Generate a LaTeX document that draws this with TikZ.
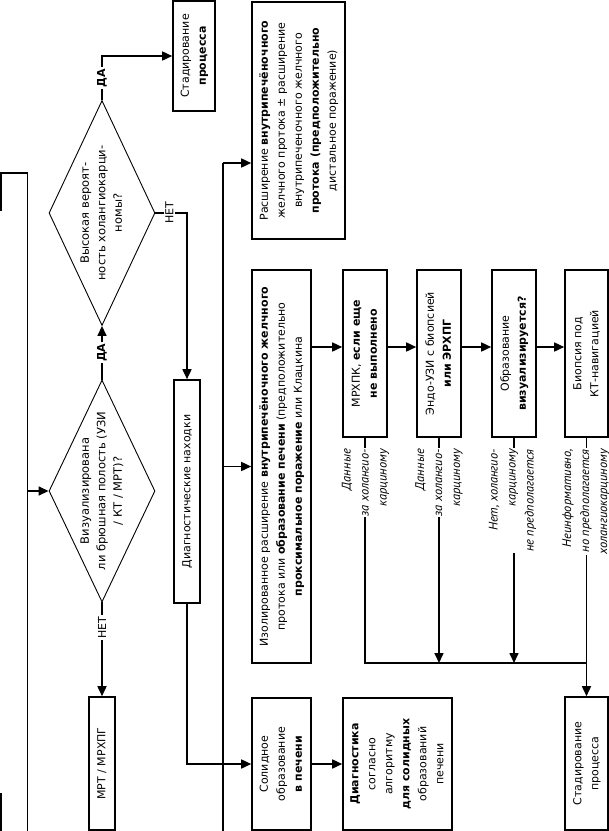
\documentclass[tikz,border=0pt]{standalone}
\usepackage{fontspec}
\usepackage{graphicx}
\setmainfont{DejaVu Sans}
\newfontfamily\ptsans{PT Sans}
\usetikzlibrary{arrows.meta,shapes.geometric,calc}
\newcommand{\rtxt}[1]{\rotatebox{90}{\begin{tabular}{@{}c@{}}#1\end{tabular}}}
\newcommand{\rtxtr}[1]{\rotatebox{90}{\begin{tabular}{@{}r@{}}#1\end{tabular}}}
\tikzset{
  box/.style={draw, line width=1.6pt, inner sep=0pt, font=\fontsize{11}{17}\selectfont},
  dia/.style={draw, diamond, line width=0.9pt, inner sep=0pt},
  dtext/.style={inner sep=0pt, font=\fontsize{11.5}{16.5}\selectfont},
  arr/.style={line width=1.6pt, -{Triangle[length=10pt,width=9pt]}},
  ln/.style={line width=1.6pt},
  lbl/.style={fill=white, inner sep=1pt, font=\ptsans\itshape\fontsize{12.5}{18}\selectfont},
  yn/.style={fill=white, inner sep=1.5pt, font=\fontsize{11}{13}\selectfont},
}
\begin{document}
\begin{tikzpicture}[x=1pt,y=-1pt]
\useasboundingbox (0,0) rectangle (609,831);
% left clipped box (partly visible)
\node[inner sep=0pt, minimum width=26pt, minimum height=680pt, anchor=north west] (lb) at (1,173) {};
\draw[ln] ($(lb.north west)+(0,38)$) -- (lb.north west) -- (lb.north east) -- (lb.south east);
\draw[ln] (1,793) -- (lb.south west);
% diamonds
\node[dia, minimum width=106pt, minimum height=222pt] (d1) at (102,491) {};
\node[dtext] (d1t) at (102,491) {\rtxt{Визуализирована\\ли брюшная полость (УЗИ\\/ КТ / МРТ)?}};
\node[dia, minimum width=106pt, minimum height=225pt] (d2) at (102,213) {};
\node[dtext] (d2t) at (102,213) {\rtxt{Высокая вероят-\\ность холангиокарци-\\номы?}};
% boxes
\node[box, minimum width=42pt, minimum height=110pt] (sb) at (194,56) {\rtxt{Стадирование\\\textbf{процесса}}};
\node[box, minimum width=26pt, minimum height=223pt] (dg) at (187,491.5) {\rtxt{Диагностические находки}};
\node[box, minimum width=26pt, minimum height=133pt] (mr) at (102,763.5) {\rtxt{МРТ / МРХПГ}};
\node[box, minimum width=93pt, minimum height=237pt] (bA) at (298.5,120.5) {\rtxt{Расширение \textbf{внутрипечёночного}\\желчного протока ± расширение\\внутрипеченочного желчного\\\textbf{протока (предположительно}\\дистальное поражение)}};
\node[box, minimum width=59pt, minimum height=393pt] (bB) at (281.5,466.5) {\rtxt{Изолированное расширение \textbf{внутрипечёночного желчного}\\протока или \textbf{образование печени} (предположительно\\\textbf{проксимальное поражение} или Клацкина}};
\node[box, minimum width=44pt, minimum height=167pt] (bC) at (365,353.5) {\rtxt{МРХПК, \textbf{если еще}\\\textbf{не выполнено}}};
\node[box, minimum width=44pt, minimum height=167pt] (bD) at (439,353.5) {\rtxt{Эндо-УЗИ с биопсией\\\textbf{или ЭРХПГ}}};
\node[box, minimum width=44pt, minimum height=167pt] (bE) at (514,353.5) {\rtxt{Образование\\\textbf{визуализируется?}}};
\node[box, minimum width=43pt, minimum height=167pt] (bF) at (586.5,353.5) {\rtxt{Биопсия под\\КТ-навигацией}};
\node[box, minimum width=43pt, minimum height=133pt] (bG) at (586.5,763.5) {\rtxt{Стадирование\\процесса}};
\node[box, minimum width=59pt, minimum height=132pt] (bH) at (281.5,764) {\rtxt{Солидное\\образование\\\textbf{в печени}}};
\node[box, minimum width=109pt, minimum height=132pt] (bI) at (397.5,764) {\rtxt{\textbf{Диагностика}\\согласно\\алгоритму\\\textbf{для солидных}\\образований\\печени}};
% connectors left part
\draw[arr] (lb.east |- d1.west) -- (d1.west);
\draw[arr] (d1.north) -- (d2.south) node[yn, midway] {\rotatebox{90}{\textbf{ДА}}};
\draw[arr] (d2.north) |- (sb.west) node[yn, pos=0.25] {\rotatebox{90}{\textbf{ДА}}};
\draw[arr] (d2.east) -| (dg.north) node[yn, pos=0.22] {\rotatebox{90}{НЕТ}};
\draw[arr] (d1.south) -- (mr.north) node[yn, pos=0.27] {\rotatebox{90}{НЕТ}};
% distribution line
\coordinate (vt) at (223,163);
\coordinate (vb) at (223,831);
\draw[ln] (vt) -- (vb);
\draw[arr] (vt) -- (vt -| bA.west);
\draw[arr] (vt |- bB.west) -- (bB.west);
\draw[arr] (dg.south) |- (bH.west);
\draw[arr] (bH.east) -- (bI.west);
% chain
\draw[arr] (bB.east |- 0,347) -- (bC.west |- 0,347);
\draw[arr] (bC.east |- 0,347) -- (bD.west |- 0,347);
\draw[arr] (bD.east |- 0,347) -- (bE.west |- 0,347);
\draw[arr] (bE.east |- 0,347) -- (bF.west |- 0,347);
% collector
\coordinate (hj) at (586.5,663);
\draw[ln] (bC.south) |- (hj);
\draw[arr] (bD.south) -- (bD.south |- hj);
\draw[arr] (bE.south) -- (bE.south |- hj);
\draw[arr] (bF.south) -- (bG.north);
% labels
\node[lbl, anchor=north] (lC) at (365,448) {\rtxtr{Данные\\за холангио-\\карциному}};
\node[lbl, anchor=north] (lD) at (438.5,448) {\rtxtr{Данные\\за холангио-\\карциному}};
\node[lbl, anchor=north] (lE) at (512,448) {\rtxtr{Нет, холангио-\\карциному\\не предполагается}};
\node[lbl, anchor=north] (lF) at (585.5,448) {\rtxtr{Неинформативно,\\но предполагается\\холангиокарциному}};
\end{tikzpicture}
\end{document}
